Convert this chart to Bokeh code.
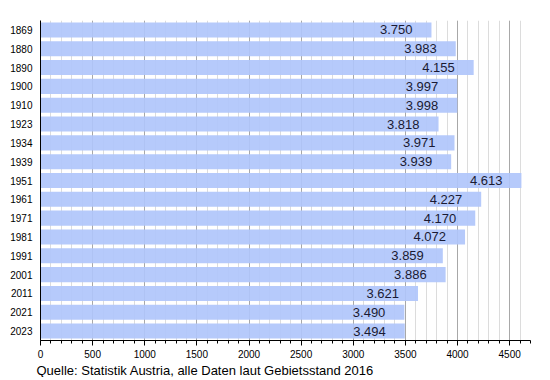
from bokeh.plotting import figure
from bokeh.models import Range1d, SingleIntervalTicker, Title, ColumnDataSource
from bokeh.core.properties import value
from bokeh.embed import file_html
from bokeh.resources import INLINE

years = ["1869", "1880", "1890", "1900", "1910", "1923", "1934", "1939", "1951",
         "1961", "1971", "1981", "1991", "2001", "2011", "2021", "2023"]
population = [3750, 3983, 4155, 3997, 3998, 3818, 3971, 3939, 4613,
              4227, 4170, 4072, 3859, 3886, 3621, 3490, 3494]
labels = [f"{v:,}".replace(",", ".") for v in population]
source_note = "Quelle: Statistik Austria, alle Daten laut Gebietsstand 2016"

FONT = "Liberation Sans"

src = ColumnDataSource(dict(year=years, pop=population, lab=labels))

p = figure(frame_width=490, frame_height=320, y_range=list(reversed(years)),
           x_range=Range1d(0, 4700), output_backend="svg", toolbar_location=None,
           min_border_left=40, min_border_right=12, min_border_top=20, min_border_bottom=4)
p.y_range.range_padding = 0
p.outline_line_color = None
p.background_fill_color = "white"

ticker = SingleIntervalTicker(interval=500, num_minor_ticks=5)
p.xgrid.ticker = ticker
p.xgrid.grid_line_color = "#a8a8a8"
p.xgrid.minor_grid_line_color = "#dcdcdc"
p.ygrid.grid_line_color = None

p.hbar(y="year", right="pop", left=0, height=0.8, source=src,
       fill_color="#b0c6fb", fill_alpha=0.92, line_color=None)
p.text(x="pop", y="year", text="lab", source=src, x_offset=-19,
       text_align="right", text_baseline="middle", text_font=value(FONT),
       text_font_size="13px", text_color="#1a1a33")

p.xaxis.ticker = ticker
p.xaxis.axis_line_color = "black"
p.xaxis.major_tick_in = 0
p.xaxis.major_tick_out = 5
p.xaxis.minor_tick_in = 0
p.xaxis.minor_tick_out = 3
p.xaxis.major_tick_line_color = "black"
p.xaxis.minor_tick_line_color = "black"
p.xaxis.major_label_text_font = FONT
p.xaxis.major_label_text_font_size = "10px"
p.xaxis.major_label_text_color = "black"
p.xaxis.major_label_standoff = 4

p.yaxis.axis_line_color = "black"
p.yaxis.major_tick_out = 0
p.yaxis.major_tick_in = 0
p.yaxis.minor_tick_line_color = None
p.yaxis.major_label_text_font = FONT
p.yaxis.major_label_text_font_size = "10px"
p.yaxis.major_label_text_color = "black"
p.yaxis.major_label_standoff = 8

note = Title(text=source_note, align="left", text_font=FONT, text_font_size="13px",
             text_font_style="normal", text_color="black", offset=-4, standoff=0)
p.add_layout(note, "below")

open("out.html", "w").write(file_html(p, INLINE))
